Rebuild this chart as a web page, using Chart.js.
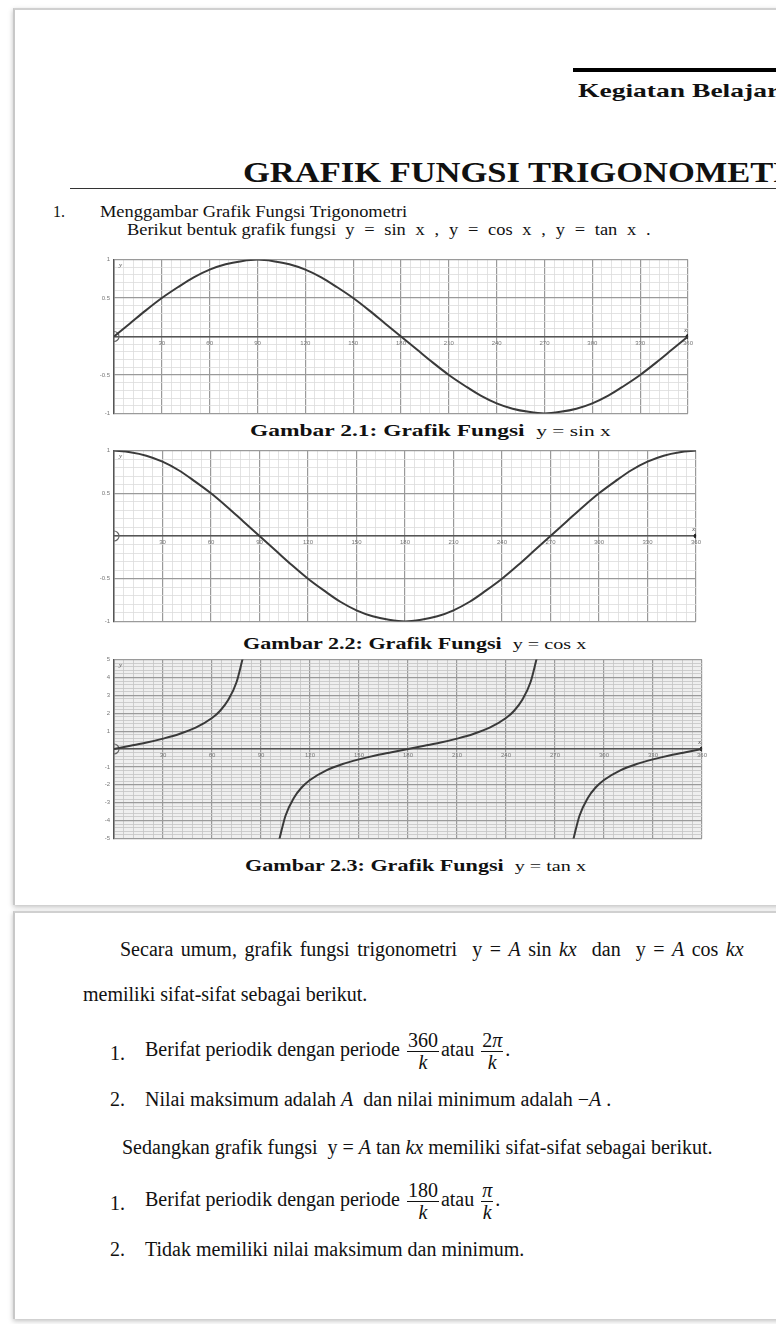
<!DOCTYPE html>
<html>
<head>
<meta charset="utf-8">
<script src="https://cdn.jsdelivr.net/npm/chart.js@4.4.1/dist/chart.umd.min.js"></script>
<style>
  body { margin: 0; width: 776px; height: 1324px; background: #fff; position: relative; overflow: hidden; font-family: 'Liberation Serif', 'Times New Roman', serif; color: #111; }
  .page { position: absolute; left: 13px; width: 800px; background: #fff; border-left: 2px solid #c8c8c8; border-top: 2px solid #d0d0d0; box-shadow: 0 2px 5px rgba(0,0,0,0.25); }
  .t { position: absolute; white-space: nowrap; transform-origin: 0 0; }
  .chart { position: absolute; }
  .cap { position: absolute; white-space: nowrap; font-weight: bold; font-size: 17px; transform-origin: 0 0; transform: scaleX(1.3); }
  .cap .m { font-weight: normal; font-size: 15.5px; }
  .frac { display: inline-block; vertical-align: middle; text-align: center; line-height: 1.05; margin: 0 2px; }
  .frac span { display: block; }
  .frac .num { border-bottom: 1.3px solid #111; padding: 0 1px; }
  .it { font-style: italic; }
  .p2 { font-size: 20px; }
</style>
</head>
<body>
<div class="page" style="top:8px;height:895px;"></div>
<div class="page" style="top:911px;height:406px;"></div>

<div style="position:absolute;left:573px;top:68px;width:210px;height:4px;background:#000;"></div>
<div class="t" style="left:578px;top:80px;font-size:19px;font-weight:bold;transform:scaleX(1.45);">Kegiatan Belajar</div>
<div class="t" style="left:243px;top:155px;font-size:30px;font-weight:bold;transform:scaleX(1.15);">GRAFIK FUNGSI TRIGONOMETRI</div>
<div style="position:absolute;left:70px;top:188px;width:720px;height:1px;background:#333;"></div>
<div class="t" style="left:53px;top:203px;font-size:16px;">1.</div>
<div class="t" style="left:100px;top:203px;font-size:16px;transform:scaleX(1.15);">Menggambar Grafik Fungsi Trigonometri</div>
<div class="t" style="left:127px;top:221px;font-size:16px;transform:scaleX(1.15);">Berikut bentuk grafik fungsi&nbsp; <span style="word-spacing:4.5px;">y = sin x , y = cos x , y = tan x .</span></div>

<div class="chart" style="left:96px;top:252px;width:600px;height:169px;"><canvas id="sinChart"></canvas></div>
<div class="cap" style="left:250px;top:421px;transform:scaleX(1.38);">Gambar 2.1: Grafik Fungsi&nbsp; <span class="m">y = sin x</span></div>

<div class="chart" style="left:96px;top:443px;width:608px;height:186px;"><canvas id="cosChart"></canvas></div>
<div class="cap" style="left:243px;top:634px;">Gambar 2.2: Grafik Fungsi&nbsp; <span class="m">y = cos x</span></div>

<div class="chart" style="left:96px;top:652px;width:614px;height:194px;"><canvas id="tanChart"></canvas></div>
<div class="cap" style="left:245px;top:856px;">Gambar 2.3: Grafik Fungsi&nbsp; <span class="m">y = tan x</span></div>

<div class="t p2" style="left:120px;top:938px;word-spacing:2.5px;">Secara umum, grafik fungsi trigonometri&nbsp; y = <span class="it">A</span> sin <span class="it">kx</span>&nbsp; dan&nbsp; y = <span class="it">A</span> cos <span class="it">kx</span></div>
<div class="t p2" style="left:83px;top:983px;">memiliki sifat-sifat sebagai berikut.</div>

<div class="t p2" style="left:110px;top:1042px;">1.</div>
<div class="t p2" style="left:145px;top:1030px;">Berifat periodik dengan periode <span class="frac"><span class="num">360</span><span class="it">k</span></span>atau <span class="frac"><span class="num">2<span class="it" style="display:inline">π</span></span><span class="it">k</span></span>.</div>
<div class="t p2" style="left:110px;top:1088px;">2.</div>
<div class="t p2" style="left:145px;top:1088px;">Nilai maksimum adalah <span class="it">A</span>&nbsp; dan nilai minimum adalah −<span class="it">A</span> .</div>
<div class="t p2" style="left:122px;top:1136px;">Sedangkan grafik fungsi&nbsp; y = <span class="it">A</span> tan <span class="it">kx</span> memiliki sifat-sifat sebagai berikut.</div>
<div class="t p2" style="left:110px;top:1192px;">1.</div>
<div class="t p2" style="left:145px;top:1180px;">Berifat periodik dengan periode <span class="frac"><span class="num">180</span><span class="it">k</span></span>atau <span class="frac"><span class="num it">π</span><span class="it">k</span></span>.</div>
<div class="t p2" style="left:110px;top:1238px;">2.</div>
<div class="t p2" style="left:145px;top:1238px;">Tidak memiliki nilai maksimum dan minimum.</div>

<script>
// values (x in degrees)
const degrees = [0, 10, 20, 30, 40, 50, 60, 70, 80, 90, 100, 110, 120, 130, 140, 150, 160, 170, 180,
  190, 200, 210, 220, 230, 240, 250, 260, 270, 280, 290, 300, 310, 320, 330, 340, 350, 360];
const sinValues = [0, 0.17, 0.34, 0.5, 0.64, 0.77, 0.87, 0.94, 0.98, 1, 0.98, 0.94, 0.87, 0.77, 0.64, 0.5, 0.34, 0.17, 0,
  -0.17, -0.34, -0.5, -0.64, -0.77, -0.87, -0.94, -0.98, -1, -0.98, -0.94, -0.87, -0.77, -0.64, -0.5, -0.34, -0.17, 0];
const cosValues = [1, 0.98, 0.94, 0.87, 0.77, 0.64, 0.5, 0.34, 0.17, 0, -0.17, -0.34, -0.5, -0.64, -0.77, -0.87, -0.94, -0.98, -1,
  -0.98, -0.94, -0.87, -0.77, -0.64, -0.5, -0.34, -0.17, 0, 0.17, 0.34, 0.5, 0.64, 0.77, 0.87, 0.94, 0.98, 1];
const tanDegrees = [0, 10, 20, 30, 40, 50, 60, 65, 70, 75, 79, 90,
  101, 105, 110, 115, 120, 130, 140, 150, 160, 170, 180, 190, 200, 210, 220, 230, 240, 245, 250, 255, 259, 270,
  281, 285, 290, 295, 300, 310, 320, 330, 340, 350, 360];
const tanValues = [0, 0.18, 0.36, 0.58, 0.84, 1.19, 1.73, 2.14, 2.75, 3.73, 5.14, null,
  -5.14, -3.73, -2.75, -2.14, -1.73, -1.19, -0.84, -0.58, -0.36, -0.18, 0, 0.18, 0.36, 0.58, 0.84, 1.19, 1.73, 2.14, 2.75, 3.73, 5.14, null,
  -5.14, -3.73, -2.75, -2.14, -1.73, -1.19, -0.84, -0.58, -0.36, -0.18, 0];
const xTickLabels = [30, 60, 90, 120, 150, 180, 210, 240, 270, 300, 330, 360];
const trigYLabels = [1, 0.5, -0.5, -1];
const tanYLabels = [5, 4, 3, 2, 1, -1, -2, -3, -4, -5];

function pts(xs, ys) {
  return xs.map((x, i) => ({ x: x, y: ys[i] }));
}

function near(v, list) {
  return list.some(l => Math.abs(l - v) < 1e-6);
}

function isMajor(v, step) {
  return Math.abs(v / step - Math.round(v / step)) < 1e-6;
}

const axisNames = {
  id: 'axisNames',
  beforeDraw(chart, args, opts) {
    if (opts.fill) {
      const a = chart.chartArea;
      chart.ctx.save();
      chart.ctx.fillStyle = opts.fill;
      chart.ctx.fillRect(a.left, a.top, a.right - a.left, a.bottom - a.top);
      chart.ctx.restore();
    }
  },
  afterDraw(chart) {
    const a = chart.chartArea;
    const c = chart.ctx;
    const y0 = chart.scales.y.getPixelForValue(0);
    c.save();
    c.fillStyle = '#555';
    c.font = 'italic 7px "Liberation Serif"';
    c.fillText('y', a.left + 5, a.top + 7);
    c.fillText('x', a.right - 4, y0 - 5);
    c.restore();
  }
};

function makeChart(id, data, yMin, yMax, yStep, yMajor, yLabels, bg, minorColor) {
  return new Chart(document.getElementById(id), {
    type: 'scatter',
    data: {
      datasets: [
        {
          data: data,
          showLine: true,
          borderColor: '#3a3a3a',
          borderWidth: 2,
          pointRadius: 0,
          cubicInterpolationMode: 'monotone',
          spanGaps: false
        },
        {
          data: [{ x: 0, y: 0 }],
          pointRadius: 5,
          pointBorderWidth: 1.2,
          pointBorderColor: '#666',
          pointBackgroundColor: 'rgba(0,0,0,0)'
        },
        {
          data: [{ x: 360, y: 0 }],
          pointRadius: 2,
          pointBackgroundColor: '#222',
          pointBorderColor: '#222'
        }
      ]
    },
    options: {
      responsive: true,
      maintainAspectRatio: false,
      animation: false,
      layout: { padding: { top: 6, right: 8, bottom: 6, left: 0 } },
      plugins: { legend: { display: false }, tooltip: { enabled: false }, axisNames: { fill: bg } },
      scales: {
        x: {
          type: 'linear',
          min: 0,
          max: 360,
          position: { y: 0 },
          border: { color: '#555', width: 1.5 },
          grid: {
            drawTicks: false,
            color: ctx => (ctx.tick && isMajor(ctx.tick.value, 30)) ? '#9a9a9a' : minorColor,
            lineWidth: ctx => (ctx.tick && isMajor(ctx.tick.value, 30)) ? 1.2 : 0.8
          },
          ticks: {
            stepSize: 6,
            maxTicksLimit: 1000,
            autoSkip: false,
            maxRotation: 0,
            padding: 3,
            color: '#777',
            font: { size: 6 },
            callback: v => near(v, xTickLabels) ? String(Math.round(v)) : ''
          }
        },
        y: {
          min: yMin,
          max: yMax,
          afterFit: s => { s.width = 18; },
          border: { color: '#555', width: 1.5 },
          grid: {
            drawTicks: false,
            color: ctx => (ctx.tick && isMajor(ctx.tick.value, yMajor)) ? '#9a9a9a' : minorColor,
            lineWidth: ctx => (ctx.tick && isMajor(ctx.tick.value, yMajor)) ? 1.2 : 0.8
          },
          ticks: {
            stepSize: yStep,
            maxTicksLimit: 1000,
            autoSkip: false,
            padding: 4,
            color: '#777',
            font: { size: 6 },
            callback: v => near(v, yLabels) ? String(Math.round(v * 10) / 10) : ''
          }
        }
      }
    },
    plugins: [axisNames]
  });
}

makeChart('sinChart', pts(degrees, sinValues), -1, 1, 0.1, 0.5, trigYLabels, null, '#dcdcdc');
makeChart('cosChart', pts(degrees, cosValues), -1, 1, 0.1, 0.5, trigYLabels, null, '#dcdcdc');
makeChart('tanChart', pts(tanDegrees, tanValues), -5, 5, 0.2, 1, tanYLabels, '#efefef', '#c4c4c4');
</script>
</body>
</html>
